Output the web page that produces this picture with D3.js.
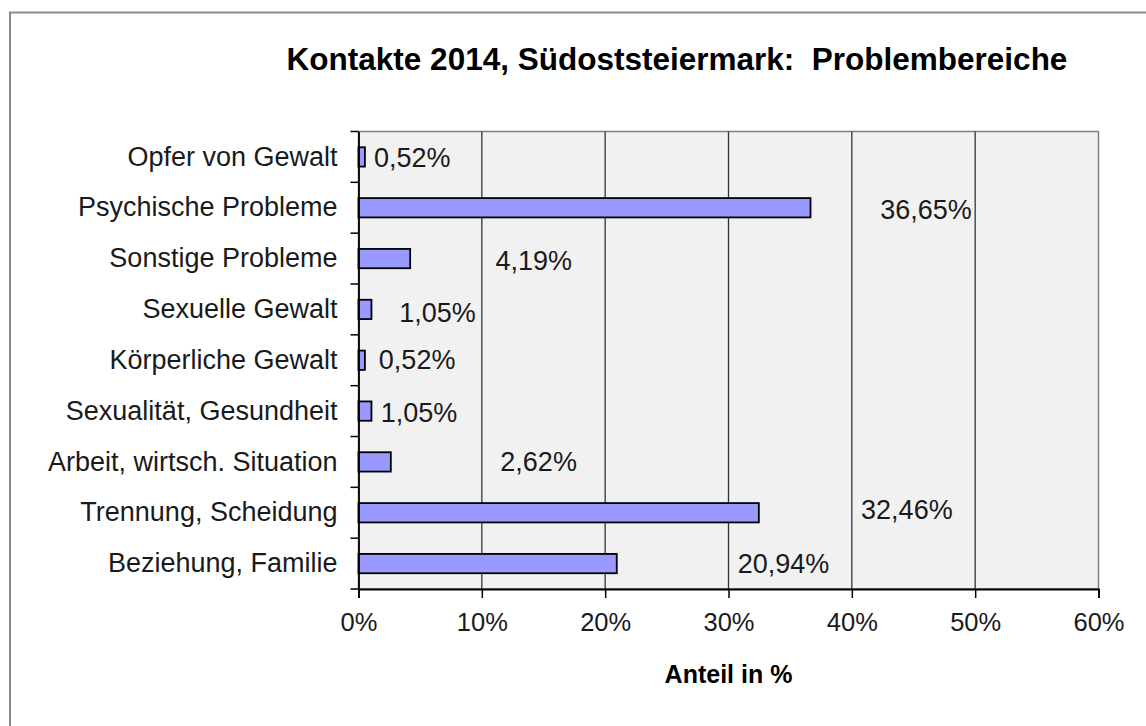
<!DOCTYPE html>
<html>
<head>
<meta charset="utf-8">
<script src="https://cdn.jsdelivr.net/npm/d3@7"></script>
<style>
  html, body { margin: 0; padding: 0; background: #fff; }
  svg { display: block; font-family: Arial, "Liberation Sans", sans-serif; }
</style>
</head>
<body>
<div id="chart"></div>
<script>
// --- Data ---
const categories = [
    'Opfer von Gewalt',
    'Psychische Probleme',
    'Sonstige Probleme',
    'Sexuelle Gewalt',
    'Körperliche Gewalt',
    'Sexualität, Gesundheit',
    'Arbeit, wirtsch. Situation',
    'Trennung, Scheidung',
    'Beziehung, Familie'
];
const shares = [0.52, 36.65, 4.19, 1.05, 0.52, 1.05, 2.62, 32.46, 20.94];
const valueLabels = ['0,52%', '36,65%', '4,19%', '1,05%', '0,52%', '1,05%', '2,62%', '32,46%', '20,94%'];
// where each value label was dragged to (in % units) and its vertical nudge
const labelAt = [1.25, 42.3, 11.1, 3.3, 1.65, 1.8, 11.5, 40.75, 30.75];
const labelDy = [0.5, 2, 2, 3, -0.5, 1.5, -1, -3, 0];
const xTicks = [0, 10, 20, 30, 40, 50, 60];

const W = 1146, H = 726;
const plot = { left: 358.5, right: 1098.5, top: 131.5, bottom: 589 };

const svg = d3.select('#chart').append('svg')
    .attr('width', W)
    .attr('height', H);

// outer chart frame (runs off the right / bottom edge)
svg.append('rect')
    .attr('x', 10).attr('y', 12.5)
    .attr('width', W + 20).attr('height', H + 20)
    .attr('fill', '#fff')
    .attr('stroke', '#8a8a8a')
    .attr('stroke-width', 2);

// --- Scales ---
const x = d3.scaleLinear().domain([0, 60]).range([plot.left, plot.right]);
const y = d3.scaleBand().domain(categories).range([plot.top, plot.bottom]).paddingInner(0.62).paddingOuter(0.31);

// plot background
svg.append('rect')
    .attr('x', plot.left).attr('y', plot.top)
    .attr('width', plot.right - plot.left)
    .attr('height', plot.bottom - plot.top)
    .attr('fill', '#f1f1f1')
    .attr('stroke', '#808080')
    .attr('stroke-width', 1.5);

// --- Gridlines ---
svg.append('g')
    .selectAll('line')
    .data(xTicks.filter(d => d > 0 && d < 60))
    .enter().append('line')
    .attr('x1', d => x(d)).attr('x2', d => x(d))
    .attr('y1', plot.top).attr('y2', plot.bottom)
    .attr('stroke', '#333')
    .attr('stroke-width', 1.3);

// --- Bars ---
svg.append('g')
    .selectAll('rect')
    .data(categories)
    .enter().append('rect')
    .attr('x', x(0))
    .attr('y', d => y(d))
    .attr('width', (d, i) => x(shares[i]) - x(0))
    .attr('height', y.bandwidth())
    .attr('fill', '#9999ff')
    .attr('stroke', '#000')
    .attr('stroke-width', 1.8);

// --- Value labels ---
svg.append('g')
    .selectAll('text')
    .data(categories)
    .enter().append('text')
    .attr('x', (d, i) => x(labelAt[i]))
    .attr('y', (d, i) => y(d) + y.bandwidth() / 2 + labelDy[i])
    .attr('dy', '0.36em')
    .attr('font-size', 27)
    .attr('fill', '#1a1a1a')
    .text((d, i) => valueLabels[i]);

// --- X axis ---
const xAxis = svg.append('g')
    .attr('transform', `translate(0,${plot.bottom})`)
    .call(d3.axisBottom(x).tickValues(xTicks).tickSize(9).tickPadding(15).tickFormat(d => d + '%'));
xAxis.select('.domain').attr('stroke', '#000').attr('stroke-width', 1.8);
xAxis.selectAll('.tick line').attr('stroke', '#000').attr('stroke-width', 1.5);
xAxis.selectAll('.tick text')
    .attr('font-size', 25.5)
    .attr('fill', '#1a1a1a')
    .attr('font-family', 'Arial, "Liberation Sans", sans-serif');

// --- Y axis (labels at band centres, ticks at band borders) ---
const yAxis = svg.append('g')
    .attr('transform', `translate(${plot.left},0)`)
    .call(d3.axisLeft(y).tickSize(0).tickPadding(21));
yAxis.select('.domain').attr('stroke', '#000').attr('stroke-width', 1.8);
yAxis.selectAll('.tick text')
    .attr('font-size', 27)
    .attr('fill', '#1a1a1a')
    .attr('font-family', 'Arial, "Liberation Sans", sans-serif');

const borders = d3.range(categories.length + 1).map(i => plot.top + i * y.step());
svg.append('g')
    .selectAll('line')
    .data(borders)
    .enter().append('line')
    .attr('x1', plot.left - 8).attr('x2', plot.left)
    .attr('y1', d => d).attr('y2', d => d)
    .attr('stroke', '#000')
    .attr('stroke-width', 1.5);

// --- Title ---
svg.append('text')
    .attr('x', 677)
    .attr('y', 70)
    .attr('text-anchor', 'middle')
    .attr('font-size', 31.5)
    .attr('font-weight', 'bold')
    .attr('fill', '#000')
    .attr('xml:space', 'preserve')
    .text('Kontakte 2014, Südoststeiermark:  Problembereiche');

// --- Axis title ---
svg.append('text')
    .attr('x', (plot.left + plot.right) / 2)
    .attr('y', 683)
    .attr('text-anchor', 'middle')
    .attr('font-size', 25)
    .attr('font-weight', 'bold')
    .attr('fill', '#000')
    .text('Anteil in %');
</script>
</body>
</html>
